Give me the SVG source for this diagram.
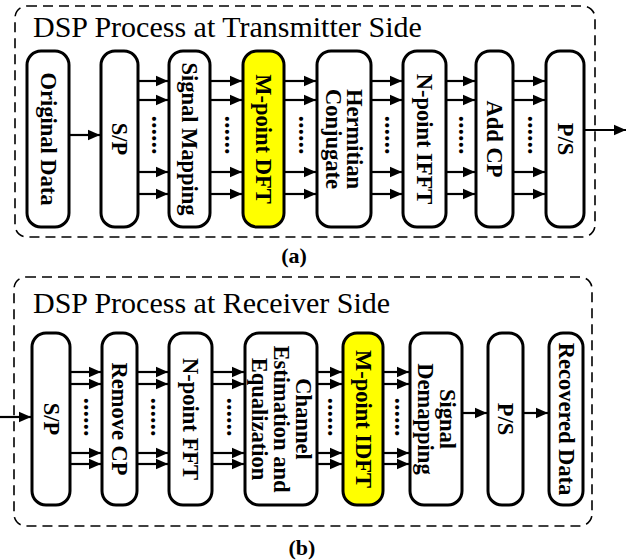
<svg xmlns="http://www.w3.org/2000/svg" width="634" height="560" viewBox="0 0 634 560">
<style>
.panel{fill:none;stroke:#000;stroke-width:1.6;stroke-dasharray:10 6}
.box{fill:#fff;stroke:#000;stroke-width:3}
.hl{fill:#ffff00}
.lbl{font-family:"Liberation Serif","Times New Roman",serif;font-weight:bold;font-size:22.5px;text-anchor:middle;fill:#000}
.title{font-family:"Liberation Serif","Times New Roman",serif;font-size:30px;fill:#000}
.cap{font-family:"Liberation Serif","Times New Roman",serif;font-weight:bold;font-size:22px;text-anchor:middle;fill:#000}
.dots{font-family:"Liberation Serif","Times New Roman",serif;font-weight:bold;font-size:26px;text-anchor:middle;fill:#000}
.arr{stroke:#000;stroke-width:2.2;fill:none;marker-end:url(#ah)}
</style>
<defs>
<marker id="ah" markerUnits="userSpaceOnUse" markerWidth="12" markerHeight="12" viewBox="0 0 12 12" refX="12" refY="6" orient="auto">
<path d="M0,0.8 L12,6 L0,11.2 Z" fill="#000"/>
</marker>
</defs>

<rect class="panel" x="15" y="6" width="580" height="231" rx="12"/>
<text class="title" x="33" y="37">DSP Process at Transmitter Side</text>
<rect class="panel" x="14" y="277" width="578" height="249" rx="12"/>
<text class="title" x="33" y="313">DSP Process at Receiver Side</text>
<text class="cap" x="294" y="263">(a)</text>
<text class="cap" x="302" y="555">(b)</text>

<g id="connectors">
<line class="arr" x1="69" y1="135" x2="100" y2="135"/>
<path class="arr" d="M138,81 H168"/><path class="arr" d="M138,100 H168"/><path class="arr" d="M138,172 H168"/><path class="arr" d="M138,194 H168"/>
<path class="arr" d="M210,81 H242"/><path class="arr" d="M210,100 H242"/><path class="arr" d="M210,172 H242"/><path class="arr" d="M210,194 H242"/>
<path class="arr" d="M284,81 H316"/><path class="arr" d="M284,100 H316"/><path class="arr" d="M284,172 H316"/><path class="arr" d="M284,194 H316"/>
<path class="arr" d="M371,81 H402"/><path class="arr" d="M371,100 H402"/><path class="arr" d="M371,172 H402"/><path class="arr" d="M371,194 H402"/>
<path class="arr" d="M446,81 H475"/><path class="arr" d="M446,100 H475"/><path class="arr" d="M446,172 H475"/><path class="arr" d="M446,194 H475"/>
<path class="arr" d="M513,81 H545"/><path class="arr" d="M513,100 H545"/><path class="arr" d="M513,172 H545"/><path class="arr" d="M513,194 H545"/>
<line class="arr" x1="584" y1="130" x2="626" y2="130"/>
<g transform="translate(153.5,135) rotate(90)"><text class="dots" x="0" y="2">......</text></g>
<g transform="translate(226.5,135) rotate(90)"><text class="dots" x="0" y="2">......</text></g>
<g transform="translate(300.5,135) rotate(90)"><text class="dots" x="0" y="2">......</text></g>
<g transform="translate(387,135) rotate(90)"><text class="dots" x="0" y="2">......</text></g>
<g transform="translate(461,135) rotate(90)"><text class="dots" x="0" y="2">......</text></g>
<g transform="translate(529.5,135) rotate(90)"><text class="dots" x="0" y="2">......</text></g>

<line class="arr" x1="0" y1="417" x2="31" y2="417"/>
<path class="arr" d="M70,372 H101"/><path class="arr" d="M70,384 H101"/><path class="arr" d="M70,453 H101"/><path class="arr" d="M70,464 H101"/>
<path class="arr" d="M137,372 H168"/><path class="arr" d="M137,384 H168"/><path class="arr" d="M137,453 H168"/><path class="arr" d="M137,464 H168"/>
<path class="arr" d="M212,372 H244"/><path class="arr" d="M212,384 H244"/><path class="arr" d="M212,453 H244"/><path class="arr" d="M212,464 H244"/>
<path class="arr" d="M317,372 H342"/><path class="arr" d="M317,384 H342"/><path class="arr" d="M317,453 H342"/><path class="arr" d="M317,464 H342"/>
<path class="arr" d="M383,372 H409"/><path class="arr" d="M383,384 H409"/><path class="arr" d="M383,453 H409"/><path class="arr" d="M383,464 H409"/>
<line class="arr" x1="462" y1="413" x2="487" y2="413"/>
<line class="arr" x1="523" y1="413" x2="548" y2="413"/>
<g transform="translate(86,417) rotate(90)"><text class="dots" x="0" y="2">......</text></g>
<g transform="translate(153,417) rotate(90)"><text class="dots" x="0" y="2">......</text></g>
<g transform="translate(228.5,417) rotate(90)"><text class="dots" x="0" y="2">......</text></g>
<g transform="translate(330,417) rotate(90)"><text class="dots" x="0" y="2">......</text></g>
<g transform="translate(396.5,417) rotate(90)"><text class="dots" x="0" y="2">......</text></g>
</g>

<g id="tx-original-data"><rect class="box" x="27" y="51" width="42" height="176" rx="14"/><g transform="translate(48,139) rotate(90)"><text class="lbl" y="7.5">Original Data</text></g></g>
<g id="tx-sp"><rect class="box" x="101" y="51" width="37" height="176" rx="14"/><g transform="translate(119.5,139) rotate(90)"><text class="lbl" y="7.5">S/P</text></g></g>
<g id="tx-signal-mapping"><rect class="box" x="169" y="51" width="41" height="176" rx="14"/><g transform="translate(189.5,139) rotate(90)"><text class="lbl" y="7.5">Signal Mapping</text></g></g>
<g id="tx-mpoint-dft"><rect class="box hl" x="243" y="51" width="41" height="176" rx="14"/><g transform="translate(263.5,139) rotate(90)"><text class="lbl" y="7.5">M-point DFT</text></g></g>
<g id="tx-hermitian"><rect class="box" x="317" y="51" width="54" height="176" rx="14"/><g transform="translate(344,139) rotate(90)"><text class="lbl" y="-3">Hermitian</text><text class="lbl" y="18">Conjugate</text></g></g>
<g id="tx-npoint-ifft"><rect class="box" x="403" y="51" width="43" height="176" rx="14"/><g transform="translate(424.5,139) rotate(90)"><text class="lbl" y="7.5">N-point IFFT</text></g></g>
<g id="tx-add-cp"><rect class="box" x="476" y="51" width="37" height="176" rx="14"/><g transform="translate(494.5,139) rotate(90)"><text class="lbl" y="7.5">Add CP</text></g></g>
<g id="tx-ps"><rect class="box" x="546" y="51" width="38" height="176" rx="14"/><g transform="translate(565,139) rotate(90)"><text class="lbl" y="7.5">P/S</text></g></g>

<g id="rx-sp"><rect class="box" x="32" y="333" width="38" height="172" rx="14"/><g transform="translate(51,419) rotate(90)"><text class="lbl" y="7.5">S/P</text></g></g>
<g id="rx-remove-cp"><rect class="box" x="102" y="333" width="35" height="172" rx="14"/><g transform="translate(119.5,419) rotate(90)"><text class="lbl" y="7.5">Remove CP</text></g></g>
<g id="rx-npoint-fft"><rect class="box" x="169" y="333" width="43" height="172" rx="14"/><g transform="translate(190.5,419) rotate(90)"><text class="lbl" y="7.5">N-point FFT</text></g></g>
<g id="rx-channel"><rect class="box" x="245" y="333" width="72" height="172" rx="14"/><g transform="translate(281,419) rotate(90)"><text class="lbl" y="-14.5">Channel</text><text class="lbl" y="7.5">Estimation and</text><text class="lbl" y="29.5">Equalization</text></g></g>
<g id="rx-mpoint-idft"><rect class="box hl" x="343" y="333" width="40" height="172" rx="14"/><g transform="translate(363,419) rotate(90)"><text class="lbl" y="7.5">M-point IDFT</text></g></g>
<g id="rx-signal-demapping"><rect class="box" x="410" y="333" width="52" height="172" rx="14"/><g transform="translate(436,419) rotate(90)"><text class="lbl" y="-3.5">Signal</text><text class="lbl" y="18.5">Demapping</text></g></g>
<g id="rx-ps"><rect class="box" x="488" y="333" width="35" height="172" rx="14"/><g transform="translate(505.5,419) rotate(90)"><text class="lbl" y="7.5">P/S</text></g></g>
<g id="rx-recovered-data"><rect class="box" x="549" y="333" width="34" height="172" rx="14"/><g transform="translate(566,419) rotate(90)"><text class="lbl" y="7.5">Recovered Data</text></g></g>
</svg>
